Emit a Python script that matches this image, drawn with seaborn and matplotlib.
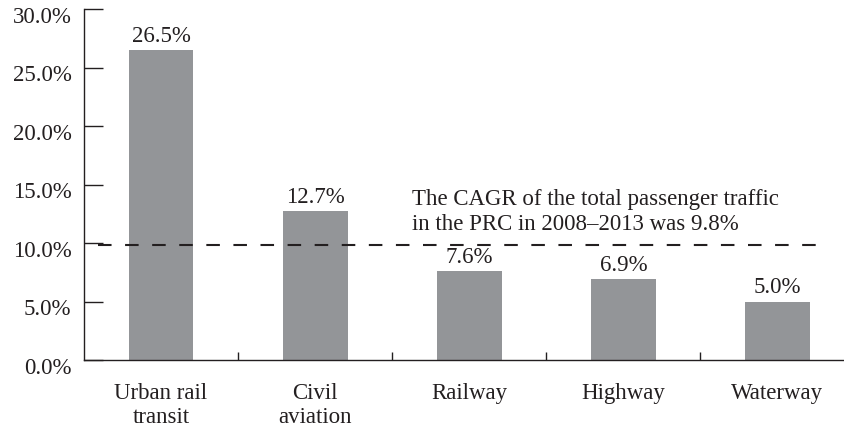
import matplotlib
matplotlib.use("Agg")
import matplotlib.pyplot as plt
import matplotlib.transforms as mtransforms
import seaborn as sns
import pandas as pd

categories = ["Urban rail\ntransit", "Civil\naviation", "Railway", "Highway", "Waterway"]
values = [26.5, 12.7, 7.6, 6.9, 5.0]
value_labels = ["26.5%", "12.7%", "7.6%", "6.9%", "5.0%"]
ytick_values = [0, 5, 10, 15, 20, 25, 30]
ytick_labels = ["0.0%", "5.0%", "10.0%", "15.0%", "20.0%", "25.0%", "30.0%"]
cagr_total = 9.8
note_lines = ["The CAGR of the total passenger traffic", "in the PRC in 2008\u20132013 was 9.8%"]

sns.set_theme(style="white")
plt.rcParams["font.family"] = ["Liberation Serif", "DejaVu Serif"]
ink = "#231f20"
bar_color = "#939598"
fs = 16.5

df = pd.DataFrame({"cat": categories, "val": values})

fig = plt.figure(figsize=(8.45, 4.31), dpi=100)
W, H = 845, 431
ax = fig.add_axes([84 / W, (H - 361) / H, (W - 84) / W, (361 - 10) / H])

sns.barplot(data=df, x="cat", y="val", ax=ax, color=bar_color, saturation=1,
            width=0.42, edgecolor="none")

ax.set_xlim(-0.5, (845 - 161.5) / 154)
ax.set_ylim(0, 30)
ax.set_xlabel("")
ax.set_ylabel("")

for s in ["top", "right"]:
    ax.spines[s].set_visible(False)
for s in ["left", "bottom"]:
    ax.spines[s].set_color(ink)
    ax.spines[s].set_linewidth(1.0)

ax.set_yticks(ytick_values)
ax.set_yticklabels(ytick_labels, fontsize=fs, color=ink)
ax.tick_params(axis="y", direction="in", length=14, width=1.0, color=ink, pad=9, left=True)
offset = mtransforms.ScaledTranslation(0, -3.5 / 72, fig.dpi_scale_trans)
for lab in ax.get_yticklabels():
    lab.set_transform(lab.get_transform() + offset)

ax.set_xticks(range(len(categories)))
ax.set_xticklabels(categories, fontsize=fs, color=ink, linespacing=1.22)
ax.set_xticks([0.5, 1.5, 2.5, 3.5], minor=True)
ax.tick_params(axis="x", which="major", length=0, pad=15.5)
ax.tick_params(axis="x", which="minor", direction="in", length=6, width=1.0, color=ink, bottom=True)

for i, (v, lab) in enumerate(zip(values, value_labels)):
    ax.annotate(lab, (i, v), xytext=(0, 6.5), textcoords="offset points",
                ha="center", va="baseline", fontsize=fs, color=ink)

xmin = (98 - 161.5) / 154
xmax = (827 - 161.5) / 154
ax.plot([xmin, xmax], [cagr_total, cagr_total], color=ink, lw=1.5,
        linestyle=(0, (6.5, 6.5)))

ppu = 351 / 30
note_x = (412 - 161.5) / 154
ax.text(note_x, (361 - 205) / ppu, note_lines[0], fontsize=fs, color=ink,
        ha="left", va="baseline")
ax.text(note_x, (361 - 230) / ppu, note_lines[1], fontsize=fs, color=ink,
        ha="left", va="baseline")

fig.savefig("out.png", dpi=100)
